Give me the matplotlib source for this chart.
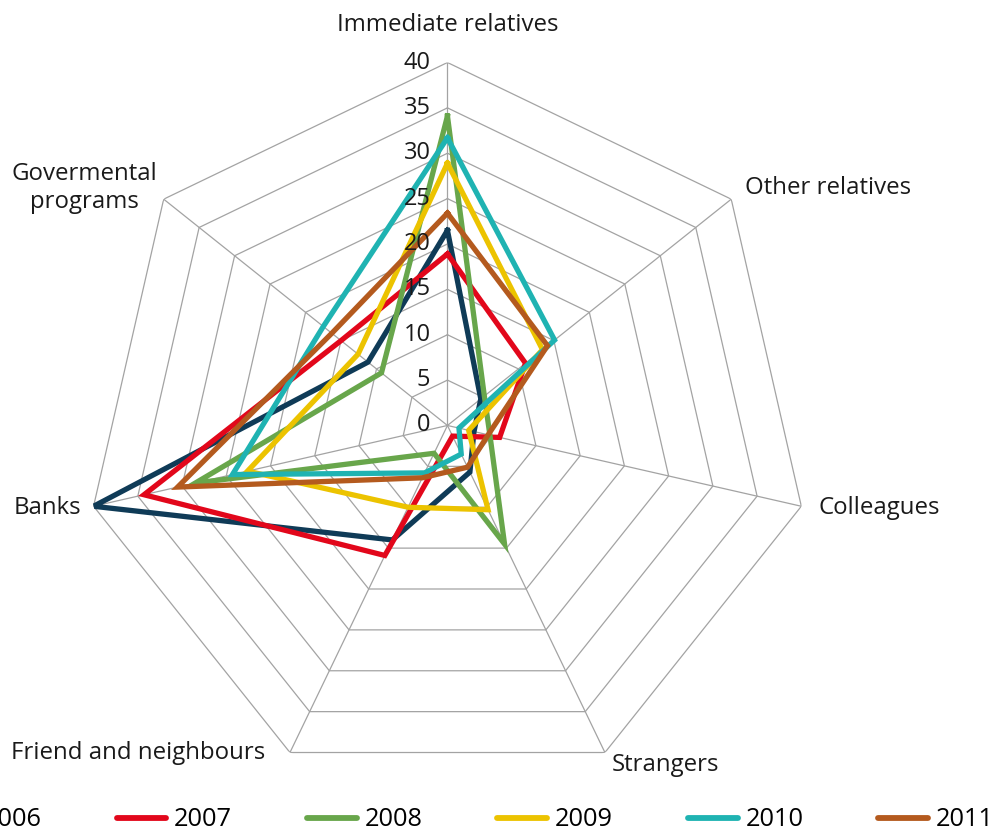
import numpy as np
import matplotlib
matplotlib.use('Agg')
import matplotlib.pyplot as plt
from matplotlib.lines import Line2D

plt.rcParams['font.family'] = ['Open Sans', 'DejaVu Sans']

categories = ['Immediate relatives', 'Other relatives', 'Colleagues', 'Strangers',
              'Friend and neighbours', 'Banks', 'Govermental\nprograms']
years = ['2006', '2007', '2008', '2009', '2010', '2011']
v2006 = [21.5, 4.7, 3.0, 5.7, 14.0, 40.0, 11.2]
v2007 = [18.9, 11.0, 5.9, 1.3, 15.9, 34.3, 15.0]
v2008 = [34.1, 5.2, 4.8, 14.5, 3.4, 28.5, 9.3]
v2009 = [28.9, 13.4, 2.4, 10.3, 10.0, 22.6, 12.6]
v2010 = [31.7, 15.1, 1.3, 3.5, 5.8, 24.3, 17.5]
v2011 = [23.4, 14.1, 4.6, 5.1, 6.4, 30.5, 16.3]
ticks = [0, 5, 10, 15, 20, 25, 30, 35, 40]

series = [v2006, v2007, v2008, v2009, v2010, v2011]
colors = ['#0f3b57', '#e2071b', '#68a64b', '#ecc300', '#1fb3b2', '#b45a1e']

fig = plt.figure(figsize=(9.95, 8.32), dpi=100)
ax = fig.add_axes([0.0849, 0.0523, 0.7296, 0.8726], projection='polar')
ax.set_theta_offset(np.pi / 2)
ax.set_theta_direction(-1)
ax.set_ylim(0, 40)
ax.grid(False)
ax.spines['polar'].set_visible(False)
ax.set_xticks([])
ax.set_yticks([])
ax.patch.set_alpha(0)

n = len(categories)
angles = np.linspace(0, 2 * np.pi, n, endpoint=False)
closed = np.append(angles, angles[0])

# heptagon grid
for t in ticks[1:]:
    ax.plot(closed, [t] * (n + 1), color='#a3a3a3', lw=0.9, zorder=1)
for a in angles:
    ax.plot([a, a], [0, ticks[-1]], color='#a3a3a3', lw=0.9, zorder=1)

for vals, c, y in zip(series, colors, years):
    ax.plot(closed, vals + [vals[0]], color=c, lw=3.8, solid_joinstyle='miter',
            zorder=3, label=y)

# radial tick labels
for t in ticks:
    ax.annotate(str(t), xy=(0, t), xytext=(-17, 0), textcoords='offset pixels',
                ha='right', va='center', fontsize=17, color='#1a1a1a',
                annotation_clip=False)

# category labels
offs = [(0, 38, 'center'), (14, 11, 'left'), (17, -2, 'left'), (7, -12, 'left'),
        (-25, 0, 'right'), (-12, -2, 'right'), (-79, 11, 'center')]
for a, lab, (dx, dy, ha) in zip(angles, categories, offs):
    ax.annotate(lab, xy=(a, ticks[-1]), xytext=(dx, dy), textcoords='offset pixels',
                ha=ha, va='center', fontsize=17.3, color='#1a1a1a',
                multialignment='center', annotation_clip=False)

handles = [Line2D([0], [0], color=c, lw=4.2, solid_capstyle='round') for c in colors]
fig.legend(handles, years, loc='center', bbox_to_anchor=(460 / 995, 1 - 820 / 832),
           ncol=6, frameon=False, fontsize=18.3, handlelength=1.96,
           handletextpad=0.3, columnspacing=2.95)

fig.savefig('out.png', dpi=100)
